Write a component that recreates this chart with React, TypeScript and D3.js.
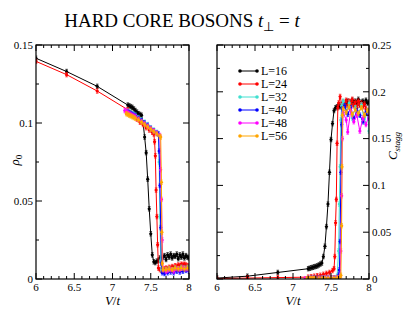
import React, { useMemo } from "react";
import * as d3 from "d3";

// rho_0 and C_stagg vs V/t for each lattice size L
const vRho16 = [6.0, 6.4, 6.8, 7.2, 7.22, 7.24, 7.26, 7.28, 7.3, 7.32, 7.34, 7.36, 7.38, 7.4, 7.42, 7.44, 7.46, 7.48, 7.5, 7.52, 7.54, 7.56, 7.58, 7.6, 7.62, 7.64, 7.66, 7.68, 7.7, 7.72, 7.74, 7.76, 7.78, 7.8, 7.82, 7.84, 7.86, 7.88, 7.9, 7.92, 7.94, 7.96, 7.98, 8.0];
const rho16 = [0.1415, 0.133, 0.1235, 0.1115, 0.111, 0.1105, 0.11, 0.109, 0.108, 0.107, 0.106, 0.1055, 0.105, 0.1, 0.091, 0.081, 0.064, 0.045, 0.029, 0.0155, 0.011, 0.0105, 0.0115, 0.012, 0.0135, 0.012, 0.014, 0.015, 0.0125, 0.0155, 0.014, 0.016, 0.0135, 0.015, 0.0145, 0.016, 0.013, 0.0155, 0.014, 0.016, 0.0135, 0.015, 0.014, 0.0135];
const cStag16 = [0.001, 0.003, 0.007, 0.011, 0.0115, 0.012, 0.0125, 0.013, 0.0135, 0.014, 0.015, 0.016, 0.017, 0.024, 0.035, 0.056, 0.08, 0.114, 0.149, 0.166, 0.18, 0.183, 0.184, 0.185, 0.184, 0.186, 0.187, 0.185, 0.188, 0.19, 0.186, 0.189, 0.191, 0.187, 0.19, 0.188, 0.192, 0.186, 0.189, 0.19, 0.187, 0.191, 0.188, 0.189];

const vRho24 = [6.0, 6.4, 6.8, 7.2, 7.24, 7.28, 7.32, 7.36, 7.4, 7.44, 7.48, 7.52, 7.54, 7.55, 7.56, 7.57, 7.58, 7.59, 7.6, 7.62, 7.64, 7.66, 7.68, 7.7, 7.72, 7.74, 7.76, 7.78, 7.8, 7.82, 7.84, 7.86, 7.88, 7.9, 7.92, 7.94, 7.96, 7.98, 8.0];
const rho24 = [0.1395, 0.131, 0.1205, 0.1085, 0.1065, 0.1045, 0.1025, 0.1005, 0.099, 0.097, 0.0955, 0.094, 0.093, 0.088, 0.079, 0.057, 0.04, 0.022, 0.007, 0.006, 0.0055, 0.006, 0.0065, 0.007, 0.0065, 0.0075, 0.007, 0.008, 0.0075, 0.0085, 0.008, 0.009, 0.0085, 0.0095, 0.009, 0.0095, 0.009, 0.0085, 0.008];
const cStag24 = [0.0005, 0.001, 0.0015, 0.002, 0.0025, 0.003, 0.0035, 0.004, 0.005, 0.006, 0.007, 0.009, 0.011, 0.024, 0.06, 0.085, 0.145, 0.183, 0.188, 0.195, 0.187, 0.189, 0.186, 0.191, 0.184, 0.19, 0.187, 0.192, 0.185, 0.189, 0.183, 0.19, 0.186, 0.188, 0.184, 0.187, 0.182, 0.18, 0.179];

const vRho32 = [7.2, 7.22, 7.24, 7.26, 7.28, 7.3, 7.34, 7.38, 7.42, 7.46, 7.5, 7.54, 7.58, 7.6, 7.61, 7.62, 7.63, 7.64, 7.66, 7.7, 7.74, 7.78, 7.82, 7.86, 7.9, 7.94, 7.98, 8.0];
const rho32 = [0.1075, 0.107, 0.1065, 0.106, 0.1055, 0.105, 0.1035, 0.102, 0.1005, 0.099, 0.097, 0.0955, 0.094, 0.093, 0.075, 0.04, 0.012, 0.006, 0.0055, 0.006, 0.0065, 0.006, 0.007, 0.0065, 0.0075, 0.007, 0.0075, 0.007];
const cStag32 = [0.0005, 0.0005, 0.0006, 0.0006, 0.0007, 0.0007, 0.0008, 0.0009, 0.001, 0.0011, 0.0012, 0.0013, 0.003, 0.03, 0.08, 0.12, 0.17, 0.185, 0.19, 0.178, 0.188, 0.172, 0.183, 0.176, 0.186, 0.168, 0.18, 0.158];

const vRho40 = [7.2, 7.22, 7.24, 7.26, 7.28, 7.3, 7.34, 7.38, 7.42, 7.46, 7.5, 7.54, 7.58, 7.6, 7.61, 7.62, 7.63, 7.64, 7.65, 7.68, 7.72, 7.76, 7.8, 7.84, 7.88, 7.92, 7.96, 8.0];
const rho40 = [0.107, 0.1065, 0.106, 0.1055, 0.105, 0.1045, 0.103, 0.1015, 0.1, 0.0985, 0.0965, 0.095, 0.0935, 0.093, 0.082, 0.06, 0.033, 0.01, 0.004, 0.0035, 0.004, 0.0045, 0.004, 0.005, 0.0045, 0.005, 0.0055, 0.005];
const cStag40 = [0.0004, 0.0004, 0.0005, 0.0005, 0.0005, 0.0006, 0.0006, 0.0007, 0.0008, 0.0009, 0.001, 0.0011, 0.0015, 0.004, 0.0096, 0.04, 0.114, 0.165, 0.182, 0.185, 0.176, 0.183, 0.171, 0.18, 0.175, 0.168, 0.178, 0.172];

const vRho48 = [7.16, 7.18, 7.2, 7.22, 7.24, 7.26, 7.28, 7.3, 7.34, 7.38, 7.42, 7.46, 7.5, 7.54, 7.58, 7.62, 7.63, 7.64, 7.65, 7.66, 7.7, 7.72, 7.76, 7.8, 7.84, 7.88, 7.92, 7.96, 8.0];
const rho48 = [0.108, 0.1075, 0.107, 0.106, 0.1055, 0.105, 0.1045, 0.104, 0.1025, 0.101, 0.0995, 0.098, 0.0965, 0.095, 0.0935, 0.092, 0.07, 0.051, 0.025, 0.006, 0.005, 0.0055, 0.006, 0.005, 0.0065, 0.006, 0.007, 0.0065, 0.006];
const cStag48 = [0.0003, 0.0003, 0.0004, 0.0004, 0.0004, 0.0005, 0.0005, 0.0005, 0.0006, 0.0007, 0.0008, 0.0009, 0.001, 0.0012, 0.0015, 0.003, 0.03, 0.089, 0.15, 0.178, 0.17, 0.157, 0.18, 0.168, 0.175, 0.158, 0.172, 0.165, 0.175];

const vRho56 = [7.18, 7.2, 7.22, 7.24, 7.26, 7.28, 7.3, 7.34, 7.38, 7.42, 7.46, 7.5, 7.54, 7.58, 7.62, 7.63, 7.64, 7.645, 7.65, 7.66, 7.7, 7.74, 7.78, 7.82, 7.86, 7.9, 7.94, 7.98];
const rho56 = [0.106, 0.1055, 0.105, 0.1045, 0.104, 0.1035, 0.103, 0.102, 0.1005, 0.099, 0.0975, 0.096, 0.0945, 0.093, 0.0915, 0.091, 0.062, 0.03, 0.01, 0.006, 0.006, 0.0065, 0.006, 0.007, 0.0065, 0.007, 0.0065, 0.007];
const cStag56 = [0.0003, 0.0003, 0.0003, 0.0004, 0.0004, 0.0004, 0.0005, 0.0005, 0.0006, 0.0007, 0.0008, 0.0009, 0.001, 0.0012, 0.002, 0.004, 0.057, 0.12, 0.175, 0.182, 0.178, 0.184, 0.176, 0.181, 0.177, 0.183, 0.175, 0.18];

const sizes = ["L=16", "L=24", "L=32", "L=40", "L=48", "L=56"];
const colors = ["#000000", "#ff0000", "#40e0d0", "#0000ff", "#ff00ff", "#ffa500"];
const vLists = [vRho16, vRho24, vRho32, vRho40, vRho48, vRho56];
const rhoLists = [rho16, rho24, rho32, rho40, rho48, rho56];
const cLists = [cStag16, cStag24, cStag32, cStag40, cStag48, cStag56];

const xTicksMajor = [6, 6.5, 7, 7.5, 8];
const xTickLabels = ["6", "6.5", "7", "7.5", "8"];
const rhoTicks = [0, 0.05, 0.1, 0.15];
const rhoTickLabels = ["0", "0.05", "0.1", "0.15"];
const cTicks = [0, 0.05, 0.1, 0.15, 0.2, 0.25];
const cTickLabels = ["0", "0.05", "0.1", "0.15", "0.2", "0.25"];

const FONT = "'Liberation Serif', 'Times New Roman', serif";
const W = 415;
const H = 312;
const TOP = 45;
const BOTTOM = 279;

type Pt = [number, number];

function Panel({
  x0,
  x1,
  yMax,
  yTicks,
  yLabels,
  ys,
  labelSide,
}: {
  x0: number;
  x1: number;
  yMax: number;
  yTicks: number[];
  yLabels: string[];
  ys: number[][];
  labelSide: "left" | "right";
}) {
  const x = d3.scaleLinear().domain([6, 8]).range([x0, x1]);
  const y = d3.scaleLinear().domain([0, yMax]).range([BOTTOM, TOP]);
  const line = d3
    .line<Pt>()
    .x((d) => x(d[0]))
    .y((d) => y(d[1]));

  const xMinor = d3.range(6, 8.001, 0.1).filter((v) => Math.abs(v * 2 - Math.round(v * 2)) > 1e-6);
  const yMinor = d3.range(0, yMax + 1e-6, 0.025).filter((v) => Math.abs(v / 0.05 - Math.round(v / 0.05)) > 1e-6);

  return (
    <g>
      <defs>
        <clipPath id={`clip-${x0}`}>
          <rect x={x0} y={TOP} width={x1 - x0} height={BOTTOM - TOP} />
        </clipPath>
      </defs>
      <g clipPath={`url(#clip-${x0})`}>
        {ys.map((vals, si) => {
          const pts: Pt[] = vLists[si].map((v, i) => [v, vals[i]]);
          const c = colors[si];
          return (
            <g key={si}>
              <path d={line(pts) ?? ""} fill="none" stroke={c} strokeWidth={1} />
              {pts.map((p, i) => {
                const px = x(p[0]);
                const py = y(p[1]);
                return (
                  <g key={i} stroke={c} strokeWidth={0.7}>
                    <line x1={px} x2={px} y1={py - 2.2} y2={py + 2.2} />
                    <line x1={px - 1.3} x2={px + 1.3} y1={py - 2.2} y2={py - 2.2} />
                    <line x1={px - 1.3} x2={px + 1.3} y1={py + 2.2} y2={py + 2.2} />
                    <circle cx={px} cy={py} r={1.6} fill={c} stroke="none" />
                  </g>
                );
              })}
            </g>
          );
        })}
      </g>

      {/* frame and inward ticks */}
      <rect x={x0} y={TOP} width={x1 - x0} height={BOTTOM - TOP} fill="none" stroke="#000" strokeWidth={1.2} />
      <g stroke="#000" strokeWidth={1}>
        {xTicksMajor.map((v) => (
          <g key={`xM${v}`}>
            <line x1={x(v)} x2={x(v)} y1={BOTTOM} y2={BOTTOM - 6} />
            <line x1={x(v)} x2={x(v)} y1={TOP} y2={TOP + 6} />
          </g>
        ))}
        {xMinor.map((v) => (
          <g key={`xm${v}`}>
            <line x1={x(v)} x2={x(v)} y1={BOTTOM} y2={BOTTOM - 3} />
            <line x1={x(v)} x2={x(v)} y1={TOP} y2={TOP + 3} />
          </g>
        ))}
        {yTicks.map((v) => (
          <g key={`yM${v}`}>
            <line x1={x0} x2={x0 + 6} y1={y(v)} y2={y(v)} />
            <line x1={x1} x2={x1 - 6} y1={y(v)} y2={y(v)} />
          </g>
        ))}
        {yMinor.map((v) => (
          <g key={`ym${v}`}>
            <line x1={x0} x2={x0 + 3} y1={y(v)} y2={y(v)} />
            <line x1={x1} x2={x1 - 3} y1={y(v)} y2={y(v)} />
          </g>
        ))}
      </g>

      <g fontFamily={FONT} fontSize={11} fill="#000">
        {xTicksMajor.map((v, i) => (
          <text key={`xl${v}`} x={x(v)} y={291} textAnchor="middle">
            {xTickLabels[i]}
          </text>
        ))}
        {yTicks.map((v, i) => (
          <text
            key={`yl${v}`}
            x={labelSide === "left" ? x0 - 3 : x1 + 3}
            y={y(v)}
            dy="0.35em"
            textAnchor={labelSide === "left" ? "end" : "start"}
          >
            {yLabels[i]}
          </text>
        ))}
        <text x={(x0 + x1) / 2} y={305} textAnchor="middle" fontSize={13}>
          <tspan fontStyle="italic">V</tspan>/<tspan fontStyle="italic">t</tspan>
        </text>
      </g>
    </g>
  );
}

export default function App() {
  const legendRows = useMemo(() => sizes.map((s, i) => ({ s, c: colors[i], y: 71 + i * 13 })), []);

  return (
    <div style={{ position: "absolute", left: 0, top: 0 }}>
      <svg width={W} height={H} style={{ display: "block", background: "#fff" }}>
        <text x={182} y={27} textAnchor="middle" fontFamily={FONT} fontSize={19}>
          HARD CORE BOSONS <tspan fontStyle="italic">t</tspan>
          <tspan fontSize={13} dy={4}>⊥</tspan>
          <tspan dy={-4}> = </tspan>
          <tspan fontStyle="italic">t</tspan>
        </text>

        <Panel x0={36} x1={189} yMax={0.15} yTicks={rhoTicks} yLabels={rhoTickLabels} ys={rhoLists} labelSide="left" />
        <Panel x0={217} x1={369} yMax={0.25} yTicks={cTicks} yLabels={cTickLabels} ys={cLists} labelSide="right" />

        <text transform="translate(19,160) rotate(-90)" textAnchor="middle" fontFamily={FONT} fontSize={13}>
          <tspan fontStyle="italic">ρ</tspan>
          <tspan fontSize={9} dy={3}>0</tspan>
        </text>
        <text transform="translate(397,146) rotate(-90)" textAnchor="middle" fontFamily={FONT} fontSize={13}>
          <tspan fontStyle="italic">C</tspan>
          <tspan fontSize={9} fontStyle="italic" dy={3}>stagg</tspan>
        </text>

        <g fontFamily={FONT} fontSize={12}>
          {legendRows.map((r) => (
            <g key={r.s}>
              <line x1={240} x2={257} y1={r.y} y2={r.y} stroke={r.c} strokeWidth={1} />
              <circle cx={240} cy={r.y} r={1.8} fill={r.c} />
              <circle cx={257} cy={r.y} r={1.8} fill={r.c} />
              <text x={261} y={r.y} dy="0.33em">
                {r.s}
              </text>
            </g>
          ))}
        </g>
      </svg>
    </div>
  );
}
